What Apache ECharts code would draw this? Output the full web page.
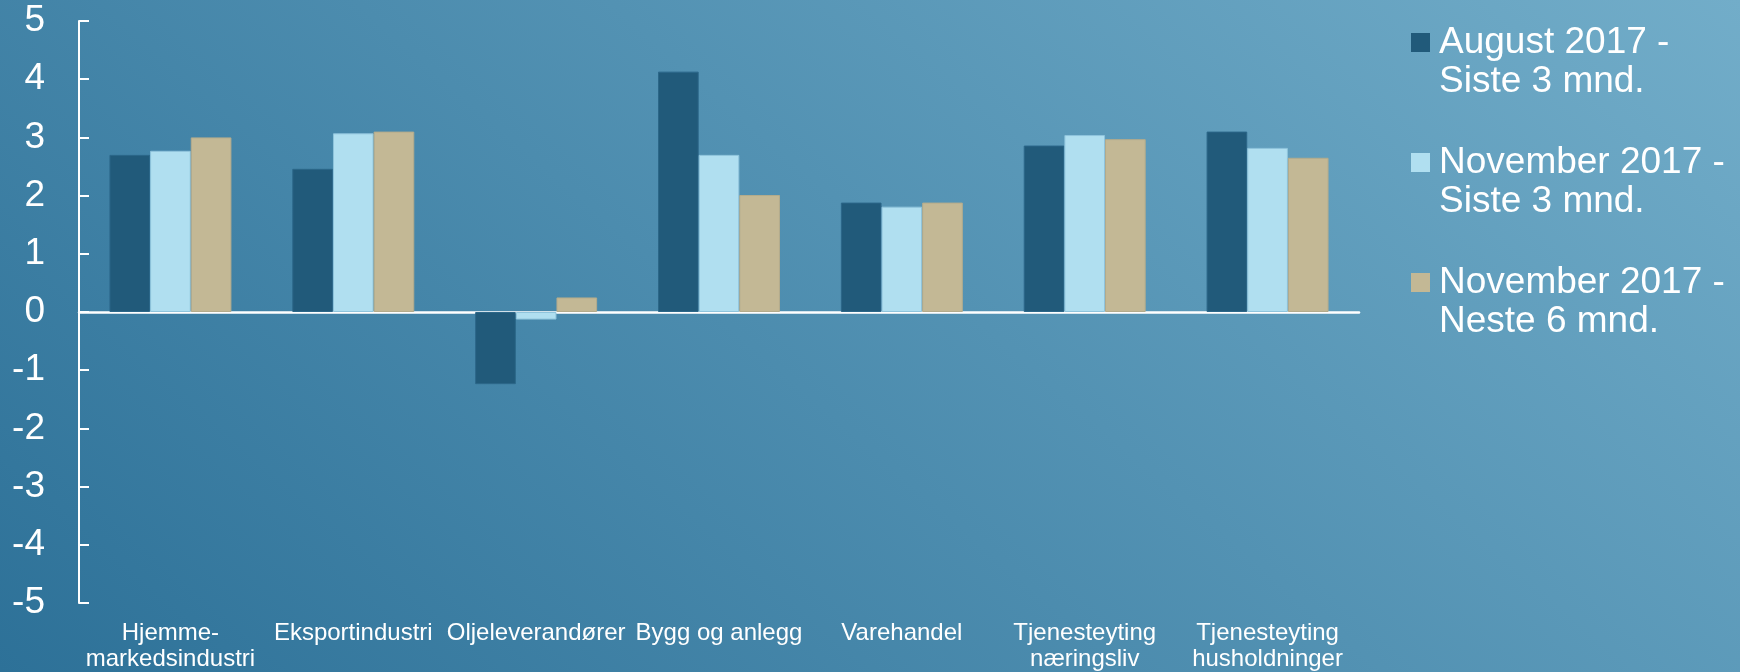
<!DOCTYPE html>
<html>
<head>
<meta charset="utf-8">
<script src="https://cdn.jsdelivr.net/npm/echarts@6/dist/echarts.min.js"></script>
<style>
  html, body { margin: 0; padding: 0; }
  #chart { width: 1740px; height: 672px; }
</style>
</head>
<body>
<div id="chart"></div>
<script>
const categories = [
  'Hjemme-\nmarkedsindustri',
  'Eksportindustri',
  'Oljeleverandører',
  'Bygg og anlegg',
  'Varehandel',
  'Tjenesteyting\nnæringsliv',
  'Tjenesteyting\nhusholdninger'
];
const seriesNames = [
  'August 2017 - Siste 3 mnd.',
  'November 2017 - Siste 3 mnd.',
  'November 2017 - Neste 6 mnd.'
];
const legendLines = [
  ['August 2017 -', 'Siste 3 mnd.'],
  ['November 2017 -', 'Siste 3 mnd.'],
  ['November 2017 -', 'Neste 6 mnd.']
];
const augustSiste3 = [2.70, 2.46, -1.24, 4.13, 1.88, 2.86, 3.10];
const novemberSiste3 = [2.77, 3.07, -0.13, 2.70, 1.81, 3.04, 2.82];
const novemberNeste6 = [3.00, 3.10, 0.25, 2.01, 1.88, 2.97, 2.65];
const yTicks = { min: -5, max: 5, interval: 1 };

const colors = ['#215a7a', '#b0dff0', '#c3b895'];
const borderColors = ['#2c6789', '#8fc4dc', '#b3ab8c'];
const FONT = '"Liberation Sans", Arial, sans-serif';

const chart = echarts.init(document.getElementById('chart'));
const values = [augustSiste3, novemberSiste3, novemberNeste6];

const LH = 39;
const rich = {
  g: { width: 9, height: LH, lineHeight: LH },
  p: { width: 28, height: LH, lineHeight: LH },
  t: { fontSize: 37, color: '#ffffff', lineHeight: LH, fontFamily: FONT }
};
colors.forEach((c, i) => {
  rich['s' + i] = { width: 19, height: 19, backgroundColor: c, verticalAlign: 'middle' };
});

chart.setOption({
  backgroundColor: {
    type: 'linear', x: 0, y: 672, x2: 1076, y2: -574, global: true,
    colorStops: [
      { offset: 0, color: '#2d7198' },
      { offset: 1, color: '#72adc9' }
    ]
  },
  textStyle: { fontFamily: FONT },
  animation: false,
  legend: {
    orient: 'vertical',
    left: 1406,
    top: 23,
    padding: 0,
    itemGap: 42,
    icon: 'none',
    itemWidth: 0,
    itemHeight: 0,
    data: seriesNames,
    formatter: function (name) {
      const i = seriesNames.indexOf(name);
      const l = legendLines[i];
      return '{s' + i + '|}{g|}{t|' + l[0] + '}\n{p|}{t|' + l[1] + '}';
    },
    textStyle: { color: '#ffffff', fontSize: 37, lineHeight: LH, fontFamily: FONT, rich: rich }
  },
  grid: { left: 79, right: 381, top: 21, bottom: 69, containLabel: false },
  xAxis: [
    {
      type: 'category',
      data: categories,
      position: 'bottom',
      axisLine: { show: false, onZero: false },
      axisTick: { show: false },
      axisLabel: {
        interval: 0, color: '#ffffff', fontSize: 24, lineHeight: 26,
        margin: 17, fontFamily: FONT
      },
      splitLine: { show: false }
    },
    {
      type: 'category',
      data: categories,
      position: 'bottom',
      axisLine: { show: true, onZero: true, lineStyle: { color: '#ffffff', width: 2.5 } },
      axisTick: { show: false },
      axisLabel: { show: false },
      splitLine: { show: false }
    }
  ],
  yAxis: {
    type: 'value',
    min: yTicks.min, max: yTicks.max, interval: yTicks.interval,
    axisLine: { show: true, lineStyle: { color: '#ffffff', width: 2 } },
    axisTick: { show: true, inside: true, length: 10, lineStyle: { color: '#ffffff', width: 2 } },
    axisLabel: { color: '#ffffff', fontSize: 37, margin: 34, fontFamily: FONT },
    splitLine: { show: false }
  },
  series: seriesNames.map((n, i) => ({
    name: n,
    type: 'bar',
    xAxisIndex: 0,
    data: values[i],
    barGap: '0%',
    barCategoryGap: '33.3%',
    itemStyle: { color: colors[i], borderColor: borderColors[i], borderWidth: 1 }
  }))
});
</script>
</body>
</html>
